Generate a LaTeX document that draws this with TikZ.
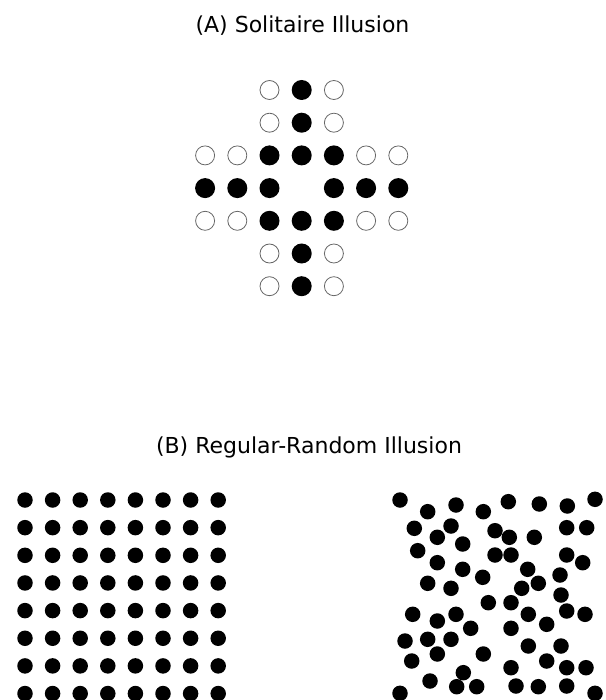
\documentclass[tikz,border=0pt]{standalone}
\usepackage{fontspec}
\setmainfont{DejaVu Sans}
\tikzset{
  peg/.style={circle, fill=black, inner sep=0pt, minimum size=20pt},
  hole/.style={circle, draw=black!60, line width=0.8pt, inner sep=0pt, minimum size=19pt},
  dot/.style={circle, fill=black, inner sep=0pt, minimum size=15.5pt},
  heading/.style={anchor=base, font=\fontsize{22}{26}\selectfont}
}

\begin{document}
\begin{tikzpicture}[x=1pt,y=-1pt]
  \useasboundingbox (0,0) rectangle (605,700);
  % (A) solitaire board
  \node[heading] (titleA) at (302.5,33) {(A) Solitaire Illusion};
  \foreach \c/\r in {3/0,3/1,2/2,3/2,4/2,0/3,1/3,2/3,4/3,5/3,6/3,2/4,3/4,4/4,3/5,3/6}
    \node[peg] (p-\c-\r) at ({301.7+32.2*(\c-3)},{90+32.7*\r}) {};
  \foreach \c/\r in {2/0,4/0,2/1,4/1,0/2,1/2,5/2,6/2,0/4,1/4,5/4,6/4,2/5,4/5,2/6,4/6}
    \node[hole] (h-\c-\r) at ({301.7+32.2*(\c-3)},{90+32.7*\r}) {};
  % (B) regular versus random
  \node[heading] (titleB) at (309,453) {(B) Regular-Random Illusion};
  \foreach \i in {0,...,7}
    \foreach \j in {0,...,7}
      \node[dot] (g-\i-\j) at ({25+27.6*\i},{500+27.65*\j}) {};
  \foreach \x/\y [count=\n] in {400/500,508.3/501.7,595/499.3,456/505,539.3/504,567.3/506,
      427.7/511.7,483.3/511.7,451/526,414.3/528.3,495/530.7,566.7/527.7,586.7/527.7,
      437.3/537.3,509.3/537.3,534.3/537.3,462.7/544,417.7/550.7,495/555,511/555,
      566.7/555,582.7/562.7,437.3/562.7,462.7/569.3,527.7/569.3,482.7/577.3,560/575,
      427.7/583.3,538.3/583.3,451/588.3,521.7/588.3,561/595,488.3/602.7,511/602.7,
      412.7/614.3,456/614.3,528.3/614.3,566.7/611,585/614.3,437.3/621,470.7/628.3,
      546.7/624.3,511/628.3,405/641,427.7/639.3,451/639.3,528.3/646,561/646,
      437.3/654,483.3/654,411.7/661,546.7/661,511/667.7,566.7/667.7,586/667.7,
      463.3/672.7,430/681,456.7/686.7,476.7/686.7,516/686,538.3/686.7,566.7/686,
      400/693.3,595/693.3}
    \node[dot] (r\n) at (\x,\y) {};
\end{tikzpicture}
\end{document}
